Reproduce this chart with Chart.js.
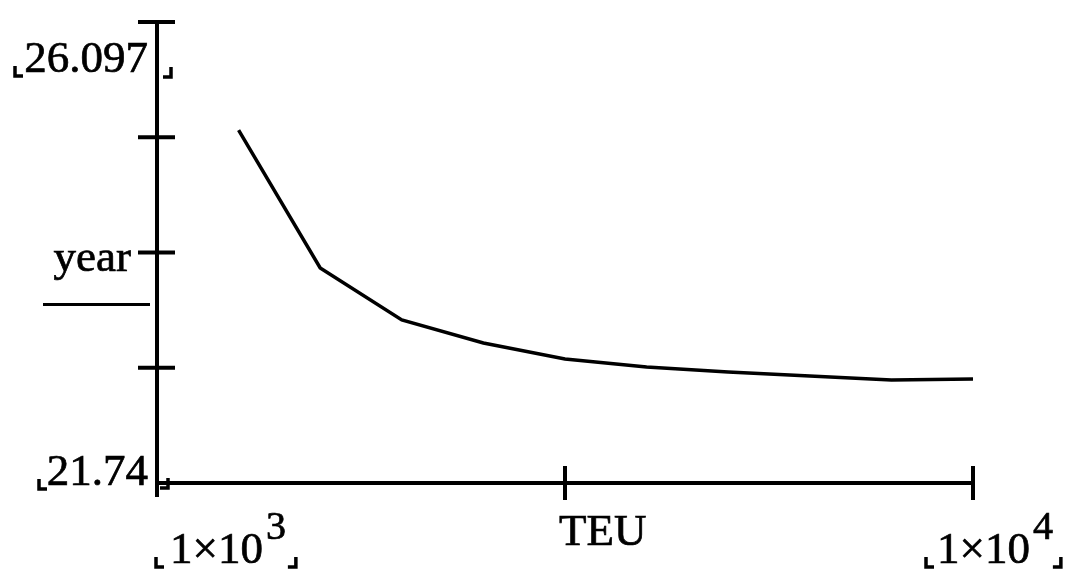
<!DOCTYPE html>
<html lang="en">
<head>
  <meta charset="UTF-8">
  <title>Service life vs TEU</title>
  <script src="https://cdn.jsdelivr.net/npm/chart.js"></script>
  <style>
    html, body { margin: 0; padding: 0; background: #fff; }
    #wrap { width: 1067px; height: 573px; }
  </style>
</head>
<body>
  <div id="wrap"><canvas id="chart" width="1067" height="573"></canvas></div>

  <script>
    // data
    const teu = [1900, 2800, 3700, 4600, 5500, 6400, 7300, 8200, 9100, 10000];
    const years = [25.076, 23.772, 23.281, 23.063, 22.912, 22.836, 22.789, 22.751, 22.714, 22.723];

    const xRange = [1000, 10000];
    const yRange = [21.74, 26.097];
    const xTicks = [1000, 5500, 10000];
    const yTicks = [21.74, 22.82925, 23.9185, 25.00775, 26.097];
    const xTickLabels = [['1×10', '3'], ['TEU'], ['1×10', '4']];
    const yTickLabels = ['21.74', '', 'year', '', '26.097'];

    const FONT = '"Liberation Serif", "Times New Roman", serif';

    // Mathcad-style placeholder corners
    function corner(ctx, x, y, side) {
      ctx.beginPath();
      if (side === 'left') {
        ctx.moveTo(x, y - 10); ctx.lineTo(x, y); ctx.lineTo(x + 8, y);
      } else {
        ctx.moveTo(x - 8, y); ctx.lineTo(x, y); ctx.lineTo(x, y - 10);
      }
      ctx.stroke();
    }

    // scanned text looks a little heavier than the plain font
    function heavyText(ctx, t, x, y) {
      ctx.fillText(t, x, y);
      ctx.strokeText(t, x, y);
    }

    const mathcadAxes = {
      id: 'mathcadAxes',
      afterDatasetsDraw(chart) {
        const { ctx, chartArea: a, scales: { x, y } } = chart;
        ctx.save();
        ctx.strokeStyle = '#000';
        ctx.fillStyle = '#000';
        ctx.lineWidth = 4;

        // axis lines
        ctx.beginPath();
        ctx.moveTo(a.left, a.top);
        ctx.lineTo(a.left, a.bottom + 14);
        ctx.moveTo(a.left, a.bottom);
        ctx.lineTo(a.right, a.bottom);
        ctx.stroke();

        // y ticks cross the axis
        yTicks.forEach((v, i) => {
          if (i === 0) return;
          const py = y.getPixelForValue(v);
          ctx.beginPath();
          ctx.moveTo(a.left - 19, py);
          ctx.lineTo(a.left + 18, py);
          ctx.stroke();
        });

        // x ticks cross the axis
        xTicks.forEach((v, i) => {
          if (i === 0) return;
          const px = x.getPixelForValue(v);
          ctx.beginPath();
          ctx.moveTo(px, a.bottom - 17);
          ctx.lineTo(px, a.bottom + 17);
          ctx.stroke();
        });

        // unit placeholder line under "year"
        ctx.lineWidth = 3;
        ctx.beginPath();
        ctx.moveTo(43, y.getPixelForValue(yTicks[2]) + 52);
        ctx.lineTo(a.left - 7, y.getPixelForValue(yTicks[2]) + 52);
        ctx.stroke();

        // y labels
        ctx.lineWidth = 0.7;
        ctx.font = '45px ' + FONT;
        ctx.textAlign = 'right';
        ctx.textBaseline = 'alphabetic';
        const yDy = [2, 0, 18, 0, 50];
        const yRight = [a.left - 9, 0, a.left - 26, 0, a.left - 9];
        yTickLabels.forEach((t, i) => {
          if (!t) return;
          heavyText(ctx, t, yRight[i], y.getPixelForValue(yTicks[i]) + yDy[i]);
        });

        // x labels
        ctx.textAlign = 'left';
        const xDx = [13, -6, -36];
        const xBase = [a.bottom + 80, a.bottom + 62, a.bottom + 80];
        const xEnds = [];
        xTickLabels.forEach((parts, i) => {
          let px = x.getPixelForValue(xTicks[i]) + xDx[i];
          ctx.font = '45px ' + FONT;
          heavyText(ctx, parts[0], px, xBase[i]);
          px += ctx.measureText(parts[0]).width;
          if (parts[1]) {
            ctx.font = '40px ' + FONT;
            heavyText(ctx, parts[1], px + 3, xBase[i] - 24);
            px += 3 + ctx.measureText(parts[1]).width;
          }
          xEnds.push(px);
        });

        // placeholder corners around the limits
        ctx.lineWidth = 3.5;
        const yTop = y.getPixelForValue(yTicks[4]);
        const yBot = y.getPixelForValue(yTicks[0]);
        corner(ctx, 15, yTop + 54, 'left');
        corner(ctx, a.left + 14, yTop + 55, 'right');
        corner(ctx, 39, yBot + 6, 'left');
        corner(ctx, a.left + 11, yBot + 5, 'right');
        const x0 = x.getPixelForValue(xTicks[0]);
        const x2 = x.getPixelForValue(xTicks[2]);
        corner(ctx, x0 + xDx[0] - 14, a.bottom + 84, 'left');
        corner(ctx, xEnds[0] + 10, a.bottom + 84, 'right');
        corner(ctx, x2 + xDx[2] - 11, a.bottom + 84, 'left');
        corner(ctx, xEnds[2] + 8, a.bottom + 84, 'right');

        ctx.restore();
      }
    };

    new Chart(document.getElementById('chart').getContext('2d'), {
      type: 'line',
      data: {
        datasets: [{
          data: teu.map((t, i) => ({ x: t, y: years[i] })),
          borderColor: '#000',
          borderWidth: 3.5,
          pointRadius: 0,
          tension: 0,
          fill: false,
          clip: false
        }]
      },
      options: {
        responsive: false,
        animation: false,
        layout: { padding: { left: 157, right: 94, top: 22, bottom: 90 } },
        plugins: { legend: { display: false }, tooltip: { enabled: false } },
        scales: {
          x: { type: 'linear', min: xRange[0], max: xRange[1], display: false },
          y: { type: 'linear', min: yRange[0], max: yRange[1], display: false }
        }
      },
      plugins: [mathcadAxes]
    });
  </script>
</body>
</html>
